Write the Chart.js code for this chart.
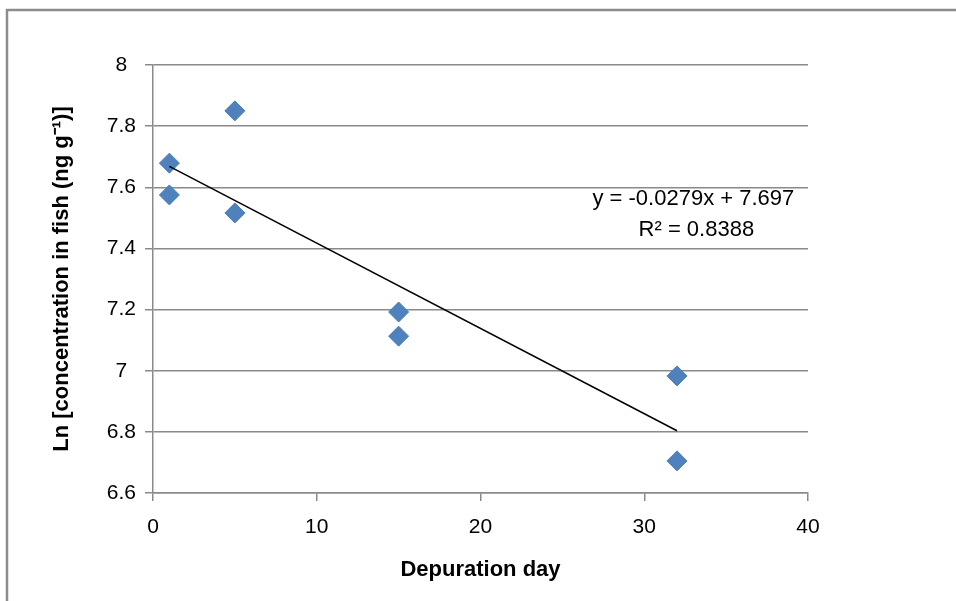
<!DOCTYPE html>
<html>
<head>
<meta charset="utf-8">
<script src="https://cdn.jsdelivr.net/npm/chart.js@4/dist/chart.umd.min.js"></script>
<style>
  html, body { margin: 0; padding: 0; background: #ffffff; }
  #wrap { width: 956px; height: 601px; }
</style>
</head>
<body>
<div id="wrap"><canvas id="c" width="956" height="601"></canvas></div>
<script>
// ---- data ----
const days = [1, 1, 5, 5, 15, 15, 32, 32];
const lnConc = [7.679, 7.575, 7.850, 7.516, 7.192, 7.113, 6.983, 6.705];
const xTicks = [0, 10, 20, 30, 40];
const yTicks = [6.6, 6.8, 7, 7.2, 7.4, 7.6, 7.8, 8];
const equationLines = ['y = -0.0279x + 7.697', 'R\u00B2 = 0.8388'];
const xTitle = 'Depuration day';
const yTitle = 'Ln [concentration in fish (ng g\u207B\u00B9)]';

// least-squares linear trend from the data, drawn between min and max day
const n = days.length;
const mx = days.reduce((a, b) => a + b, 0) / n;
const my = lnConc.reduce((a, b) => a + b, 0) / n;
let sxy = 0, sxx = 0;
for (let i = 0; i < n; i++) { sxy += (days[i] - mx) * (lnConc[i] - my); sxx += (days[i] - mx) ** 2; }
const slope = sxy / sxx;
const intercept = my - slope * mx;
const xMin = Math.min(...days), xMax = Math.max(...days);
const trend = [{x: xMin, y: intercept + slope * xMin}, {x: xMax, y: intercept + slope * xMax}];

const FONT = "'Liberation Sans', Arial, sans-serif";
const GRID = '#8a8a8a';

const framePlugin = {
  id: 'frame',
  beforeDraw(chart) {
    const ctx = chart.ctx;
    ctx.save();
    ctx.fillStyle = '#ffffff';
    ctx.fillRect(0, 0, chart.width, chart.height);
    ctx.strokeStyle = '#8c8c8c';
    ctx.lineWidth = 2.5;
    ctx.beginPath();
    ctx.moveTo(7, chart.height + 5);
    ctx.lineTo(7, 10);
    ctx.lineTo(chart.width + 5, 10);
    ctx.stroke();
    ctx.restore();
  }
};

const eqPlugin = {
  id: 'eq',
  afterDatasetsDraw(chart) {
    const ctx = chart.ctx;
    const xs = chart.scales.x, ys = chart.scales.y;
    ctx.save();
    ctx.fillStyle = '#000000';
    ctx.font = "22px " + FONT;
    ctx.textAlign = 'center';
    ctx.textBaseline = 'middle';
    const cx = xs.getPixelForValue(33.0);
    ctx.fillText(equationLines[0], cx, ys.getPixelForValue(7.561));
    ctx.fillText(equationLines[1], cx + 3, ys.getPixelForValue(7.461));
    ctx.restore();
  }
};

new Chart(document.getElementById('c'), {
  type: 'scatter',
  data: {
    datasets: [
      {
        label: 'data',
        data: days.map((d, i) => ({x: d, y: lnConc[i]})),
        pointStyle: 'rectRot',
        pointRadius: 10,
        pointHoverRadius: 10,
        backgroundColor: '#4F81BD',
        borderColor: '#4A7EBB',
        borderWidth: 1,
        order: 2
      },
      {
        label: 'trend',
        type: 'line',
        data: trend,
        borderColor: '#000000',
        borderWidth: 1.5,
        pointRadius: 0,
        fill: false,
        order: 1
      }
    ]
  },
  options: {
    responsive: false,
    animation: false,
    devicePixelRatio: 1,
    layout: { padding: { left: 0, right: 148, top: 65, bottom: 0 } },
    plugins: { legend: { display: false }, tooltip: { enabled: false } },
    scales: {
      x: {
        type: 'linear',
        min: 0, max: 40,
        afterBuildTicks(scale) { scale.ticks = xTicks.map(v => ({value: v})); },
        afterFit(scale) { scale.height = 108; },
        grid: { drawOnChartArea: false, drawTicks: true, tickLength: 8, color: GRID, lineWidth: 1.5 },
        border: { display: true, color: GRID, width: 1.5 },
        ticks: { color: '#000', font: { family: FONT, size: 21 }, padding: 14, maxRotation: 0 },
        title: { display: true, text: xTitle, color: '#000', font: { family: FONT, size: 22, weight: 'bold', lineHeight: 1.2 }, padding: { top: 0, bottom: 18 } }
      },
      y: {
        type: 'linear',
        min: 6.6, max: 8,
        afterBuildTicks(scale) { scale.ticks = yTicks.map(v => ({value: v})); },
        afterFit(scale) { scale.width = 153; },
        grid: { drawOnChartArea: true, drawTicks: true, tickLength: 8, color: GRID, lineWidth: 1.5 },
        border: { display: true, color: GRID, width: 1.5 },
        ticks: { color: '#000', font: { family: FONT, size: 21 }, padding: 9, crossAlign: 'center',
                 callback: v => String(Math.round(v * 10) / 10) },
        title: { display: true, text: yTitle, color: '#000', font: { family: FONT, size: 22, weight: 'bold', lineHeight: 1.2 }, padding: { top: 49, bottom: 0 } }
      }
    }
  },
  plugins: [framePlugin, eqPlugin]
});
</script>
</body>
</html>
